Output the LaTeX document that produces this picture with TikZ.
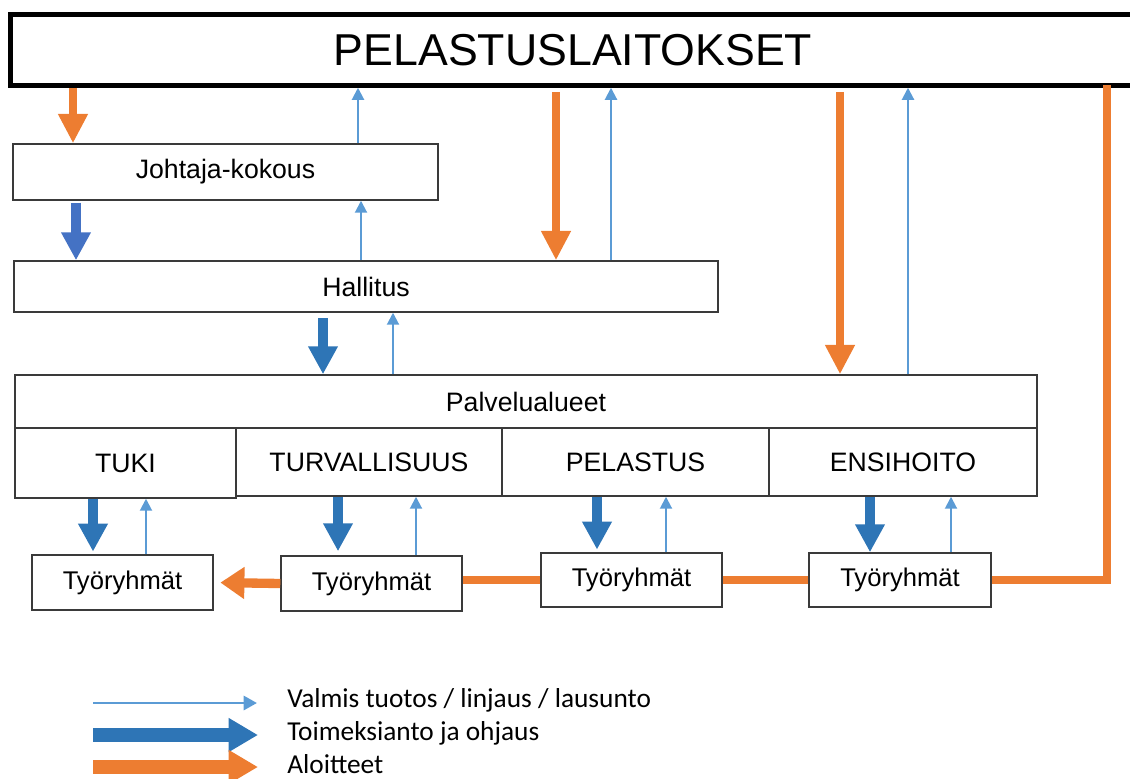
\documentclass[tikz,border=0pt]{standalone}
\usepackage{fontspec}
\setmainfont{Liberation Sans}
\newfontfamily\legfont{Carlito}
\usetikzlibrary{arrows.meta,calc}
\definecolor{orangeC}{HTML}{ED7D31}
\definecolor{blueC}{HTML}{2E75B6}
\definecolor{mblueC}{HTML}{4472C4}
\definecolor{lblueC}{HTML}{5B9BD5}
\definecolor{edgeC}{HTML}{3A3A3A}
\tikzset{
  box/.style={draw=edgeC, line width=1.1pt, fill=white, inner sep=0pt, font=\fontsize{20}{24}\selectfont},
  sz/.style 2 args={minimum width=#1*0.75pt, minimum height=#2*0.75pt},
  initarrow/.style={draw=orangeC, line width=6pt, -{Triangle[length=22pt,width=21pt]}},
  initline/.style={draw=orangeC, line width=6.5pt, line join=miter},
  cmdarrow/.style={draw=blueC, line width=7pt, -{Triangle[length=21pt,width=21pt]}},
  outarrow/.style={draw=lblueC, line width=1.5pt, -{Triangle[length=9pt,width=9pt]}},
  legtext/.style={anchor=west, inner sep=0pt, font=\legfont\fontsize{20.5}{24}\selectfont}
}
\begin{document}
\begin{tikzpicture}[x=0.75pt,y=-0.75pt]
\useasboundingbox (0,0) rectangle (1130,778);
\begin{scope}
\clip (0,0) rectangle (1130,778);
% top box
\node[box, draw=black, line width=3.75pt, sz={1126}{70.5}, font=\fontsize{33.5}{40}\selectfont] (top) at (573,50) {PELASTUSLAITOKSET};
% level boxes
\node[box, sz={425}{56}] (jk) at (225.5,172) {Johtaja-kokous};
\node[box, sz={704}{51}] (hal) at (366,286.5) {Hallitus};
\node[box, sz={1022}{53}] (pal) at (526,401.5) {Palvelualueet};
\node[box, sz={221}{70}] (tuki) at (125.5,463) {TUKI};
\node[box, sz={266}{68}] (turv) at (369,462) {TURVALLISUUS};
\node[box, sz={267}{68}] (pel) at (635.5,462) {PELASTUS};
\node[box, sz={268}{68}] (ens) at (903,462) {ENSIHOITO};
\node[box, sz={181}{55}, font=\fontsize{19.2}{23}\selectfont] (t1) at (122.5,582.5) {Työryhmät};
\node[box, sz={181}{55}, font=\fontsize{19.2}{23}\selectfont] (t2) at (371.5,583.5) {Työryhmät};
\node[box, sz={181}{54}, font=\fontsize{19.2}{23}\selectfont] (t3) at (631.5,580) {Työryhmät};
\node[box, sz={182}{54}, font=\fontsize{19.2}{23}\selectfont] (t4) at (900,580) {Työryhmät};
% initiatives (orange)
\draw[initarrow] (top.south -| 73,0) -- (jk.north -| 73,0);
\draw[initarrow] ([yshift=-3pt]top.south -| 556,0) -- (hal.north -| 556,0);
\draw[initarrow] ([yshift=-3pt]top.south -| 840,0) -- (pal.north -| 840,0);
\draw[initline] ([yshift=2pt]top.south -| 1107,0) |- (t4.east);
\draw[initline] (t4.west) -- (t4.west -| t3.east);
\draw[initline] (t3.west) -- (t3.west -| t2.east);
\draw[initarrow, line width=7pt, {-Triangle[length=18pt,width=23pt]}, shorten >=5pt] (t2.west) -- (t1.east);
% outputs (light blue)
\draw[outarrow] (jk.north -| 358,0) -- (top.south -| 358,0);
\draw[outarrow] (hal.north -| 611,0) -- (top.south -| 611,0);
\draw[outarrow] (pal.north -| 908,0) -- (top.south -| 908,0);
\draw[outarrow] (hal.north -| 361,0) -- (jk.south -| 361,0);
\draw[outarrow] (pal.north -| 393,0) -- (hal.south -| 393,0);
\draw[outarrow] (t1.north -| 146,0) -- (tuki.south -| 146,0);
\draw[outarrow] (t2.north -| 416,0) -- (turv.south -| 416,0);
\draw[outarrow] (t3.north -| 666,0) -- (pel.south -| 666,0);
\draw[outarrow] (t4.north -| 951,0) -- (ens.south -| 951,0);
% commands (blue)
\draw[cmdarrow, draw=mblueC] ([yshift=-1.5pt]jk.south -| 76,0) -- (hal.north -| 76,0);
\draw[cmdarrow] ([yshift=-4pt]hal.south -| 323,0) -- (pal.north -| 323,0);
\draw[cmdarrow] (tuki.south -| 93,0) -- ([yshift=2pt]t1.north -| 93,0);
\draw[cmdarrow] (turv.south -| 338,0) -- ([yshift=3pt]t2.north -| 338,0);
\draw[cmdarrow] (pel.south -| 597,0) -- ([yshift=2pt]t3.north -| 597,0);
\draw[cmdarrow] (ens.south -| 870,0) -- (t4.north -| 870,0);
% legend
\coordinate (l1a) at (93,703); \coordinate (l1b) at (257,703);
\coordinate (l2a) at (93,735); \coordinate (l2b) at (258,735);
\coordinate (l3a) at (93,767); \coordinate (l3b) at (258,767);
\draw[draw=lblueC, line width=2.2pt, -{Triangle[length=10pt,width=10.5pt]}] (l1a) -- (l1b);
\draw[draw=blueC, line width=10.5pt, -{Triangle[length=22pt,width=24pt]}] (l2a) -- (l2b);
\draw[draw=orangeC, line width=10.5pt, -{Triangle[length=22pt,width=24pt]}] (l3a) -- (l3b);
\node[legtext] (lg1) at (287,700) {Valmis tuotos / linjaus / lausunto};
\node[legtext] (lg2) at (287,733) {Toimeksianto ja ohjaus};
\node[legtext] (lg3) at (287,764) {Aloitteet};
\end{scope}
\end{tikzpicture}
\end{document}
